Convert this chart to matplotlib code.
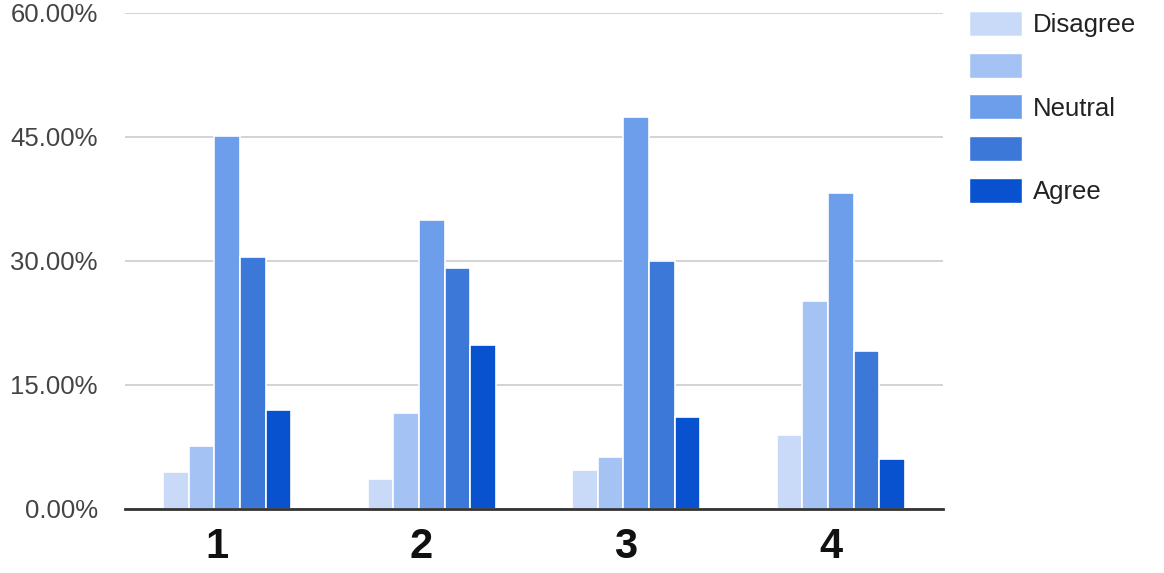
import matplotlib
matplotlib.use("Agg")
import matplotlib.pyplot as plt
from matplotlib.patches import Patch
from matplotlib.ticker import FuncFormatter
import numpy as np

categories = ["1", "2", "3", "4"]
series_names = ["Disagree", "", "Neutral", "", "Agree"]
disagree = [4.5, 3.6, 4.7, 9.0]
somewhat_disagree = [7.6, 11.6, 6.3, 25.2]
neutral = [45.1, 35.0, 47.4, 38.2]
somewhat_agree = [30.5, 29.2, 30.0, 19.1]
agree = [12.0, 19.8, 11.1, 6.0]
yticks = [0, 15, 30, 45, 60]

series = [disagree, somewhat_disagree, neutral, somewhat_agree, agree]
colors = ["#c9daf8", "#a4c2f4", "#6d9eeb", "#3c78d8", "#0852d0"]

fig = plt.figure(figsize=(11.64, 5.73), dpi=100)
ax = fig.add_axes([125/1164, 1-509/573, (943-125)/1164, (509-13)/573])

x = np.arange(len(categories))
step = 0.125
for i, (vals, c) in enumerate(zip(series, colors)):
    ax.bar(x + (i - 2) * step, vals, width=step, color=c, edgecolor="white",
           linewidth=1.2, zorder=3)

ax.set_xlim(-0.5, len(categories) - 0.5)
ax.set_ylim(0, 60)
ax.set_yticks(yticks)
ax.yaxis.set_major_formatter(FuncFormatter(lambda v, p: f"{v:.2f}%"))
ax.grid(axis="y", color="#cccccc", linewidth=1.2, zorder=0)
for s in ["top", "right", "left"]:
    ax.spines[s].set_visible(False)
ax.spines["bottom"].set_color("#333333")
ax.spines["bottom"].set_linewidth(2)
ax.spines["bottom"].set_zorder(4)
ax.tick_params(axis="y", length=0, pad=19.5, labelsize=18.5, labelcolor="#444444")
ax.set_xticks(x - 0.05)
ax.set_xticklabels(categories, fontsize=30, fontweight="bold", color="#111111")
ax.tick_params(axis="x", length=0, pad=13)
for lbl in ax.get_yticklabels():
    lbl.set_fontfamily("Liberation Sans")
for lbl in ax.get_xticklabels():
    lbl.set_fontfamily("Liberation Sans")

handles = [Patch(facecolor=c, edgecolor="white") for c in colors]
fig.legend(handles, series_names, loc="upper left",
           bbox_to_anchor=(969/1164, 1-11/573), frameon=False,
           prop={"family": "Liberation Sans", "size": 18.5},
           handlelength=2.05, handleheight=1.12, labelspacing=0.6,
           handletextpad=0.45, borderpad=0, borderaxespad=0,
           labelcolor="#222222")

fig.savefig("out.png", dpi=100)
